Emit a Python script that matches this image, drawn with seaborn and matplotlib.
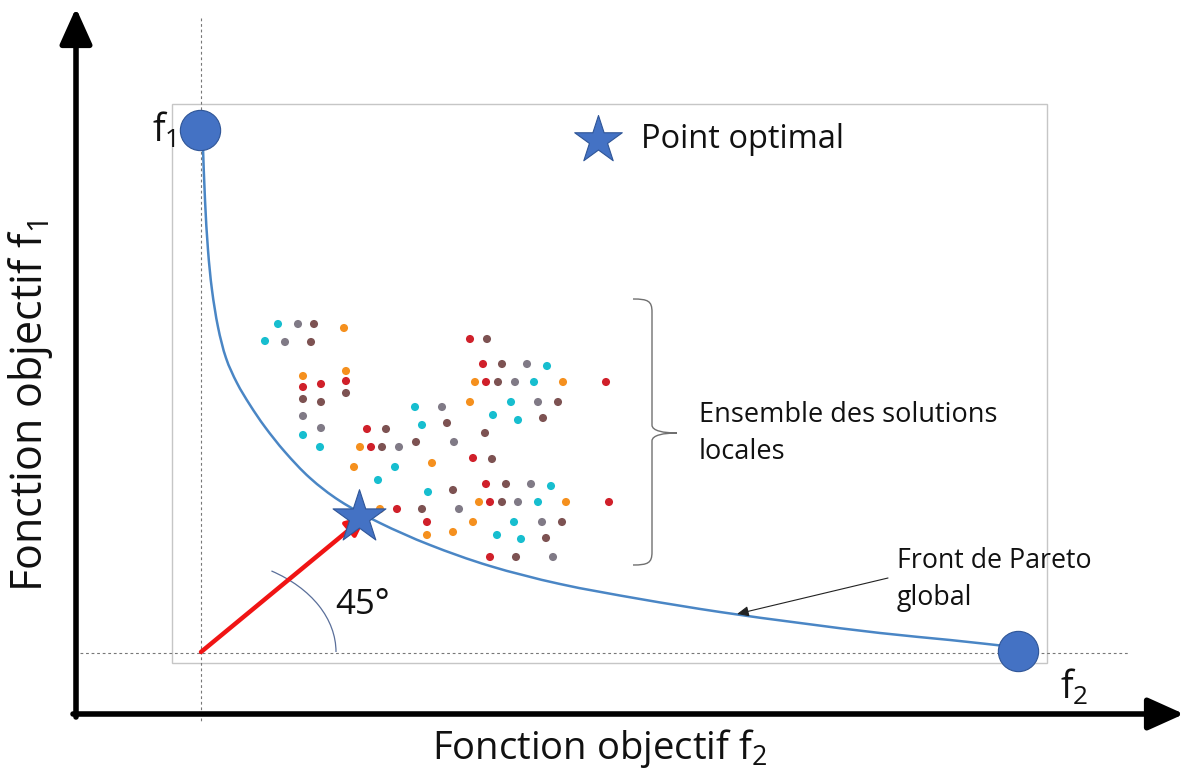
import matplotlib
matplotlib.use("Agg")
import matplotlib.pyplot as plt
from matplotlib.patches import Rectangle, Arc, PathPatch
from matplotlib.path import Path
import seaborn as sns
import pandas as pd

# ---------------- data (diagram units: f2 to the right, f1 axis drawn inverted) -------------
cyan_f2 = [278, 265, 303, 320, 415, 422, 395, 547, 534, 511, 493, 518, 551, 538, 514, 497, 521, 378, 428]
cyan_f1 = [324, 341, 435, 447, 407, 425, 467, 366, 382, 402, 415, 420, 486, 502, 522, 535, 539, 480, 492]
gray_f2 = [298, 285, 303, 321, 442, 399, 454, 527, 515, 538, 531, 518, 459, 542, 553]
gray_f1 = [324, 342, 416, 428, 407, 447, 442, 364, 382, 402, 484, 502, 509, 522, 557]
brown_f2 = [314, 311, 303, 321, 346, 487, 485, 447, 386, 382, 416, 502, 498, 558, 543, 492, 453, 506, 502, 562, 546, 516, 422]
brown_f1 = [324, 342, 399, 402, 393, 339, 433, 423, 429, 447, 442, 364, 382, 402, 418, 459, 490, 484, 502, 522, 538, 557, 509]
orange_f2 = [344, 303, 346, 360, 475, 470, 354, 432, 563, 479, 566, 473, 453, 380, 427]
orange_f1 = [328, 376, 371, 447, 382, 402, 467, 463, 382, 502, 502, 522, 532, 509, 535]
red_f2 = [303, 321, 346, 367, 371, 470, 483, 486, 473, 606, 486, 490, 609, 490, 397, 427]
red_f1 = [387, 384, 381, 429, 447, 339, 364, 382, 458, 382, 484, 502, 502, 557, 509, 522]

front_f2 = [203, 205, 208, 212, 218, 226, 237, 250, 265, 285, 310, 340, 380, 430, 490, 560, 640, 720, 800, 880, 950, 1005]
front_f1 = [148, 200, 250, 290, 327, 358, 383, 405, 427, 452, 478, 501, 523, 545, 566, 584, 599, 612, 623, 633, 640, 646]

extreme_f2 = [200, 1018]
extreme_f1 = [130, 651]
optimal_f2 = [359]
optimal_f1 = [517]
origin = (201, 652)

groups = ["cyan", "gray", "brown", "orange", "red"]
palette = {"cyan": "#17becf", "gray": "#807a86", "brown": "#7d5252", "orange": "#f5901e", "red": "#d0202a"}

rows = []
for g, xs, ys in [("cyan", cyan_f2, cyan_f1), ("gray", gray_f2, gray_f1), ("brown", brown_f2, brown_f1),
                  ("orange", orange_f2, orange_f1), ("red", red_f2, red_f1)]:
    for x, y in zip(xs, ys):
        rows.append({"f2": x, "f1": y, "group": g})
dots = pd.DataFrame(rows)

# ---------------- figure ----------------
sns.set_style("white")
FONT = ["Open Sans", "DejaVu Sans"]
plt.rcParams["font.family"] = FONT
plt.rcParams["mathtext.fontset"] = "custom"
plt.rcParams["mathtext.rm"] = "Open Sans"
plt.rcParams["mathtext.it"] = "Open Sans"
plt.rcParams["mathtext.default"] = "regular"

fig = plt.figure(figsize=(11.85, 7.78), dpi=100)
ax = fig.add_axes([0, 0, 1, 1])
ax.set_xlim(0, 1185)
ax.set_ylim(778, 0)
ax.axis("off")

# frame rectangle
ax.add_patch(Rectangle((172, 104), 875, 559, fill=False, ec="#c6c6c6", lw=1.0, zorder=1))

# dotted guide lines
ax.plot([201, 201], [18, 722], ls=(0, (2.5, 2.5)), color="#777777", lw=0.8, zorder=1)
ax.plot([80, 1130], [653, 653], ls=(0, (2.5, 2.5)), color="#777777", lw=0.8, zorder=1)

# main axes arrows
ax.annotate("", xy=(76, 8), xytext=(76, 717),
            arrowprops=dict(arrowstyle="-|>,head_length=1.0,head_width=0.45", lw=4, color="black",
                            mutation_scale=22, shrinkA=0, shrinkB=0), zorder=5)
ax.annotate("", xy=(1184, 714), xytext=(73, 714),
            arrowprops=dict(arrowstyle="-|>,head_length=1.0,head_width=0.45", lw=4, color="black",
                            mutation_scale=22, shrinkA=0, shrinkB=0), zorder=5)

# Pareto front: smooth curve (Catmull-Rom -> cubic Bezier) through the read points
pts = list(zip(front_f2, front_f1))
verts = [pts[0]]
codes = [Path.MOVETO]
for i in range(len(pts) - 1):
    p0 = pts[i - 1] if i > 0 else pts[i]
    p1 = pts[i]
    p2 = pts[i + 1]
    p3 = pts[i + 2] if i + 2 < len(pts) else pts[i + 1]
    c1 = (p1[0] + (p2[0] - p0[0]) / 6, p1[1] + (p2[1] - p0[1]) / 6)
    c2 = (p2[0] - (p3[0] - p1[0]) / 6, p2[1] - (p3[1] - p1[1]) / 6)
    verts += [c1, c2, p2]
    codes += [Path.CURVE4] * 3
ax.add_patch(PathPatch(Path(verts, codes), fill=False, ec="#4a86c5", lw=1.8, zorder=3))

# local solutions
sns.scatterplot(data=dots, x="f2", y="f1", hue="group", hue_order=groups, palette=palette,
                s=34, edgecolor="none", legend=False, ax=ax, zorder=4)

# extreme points
sns.scatterplot(x=extreme_f2, y=extreme_f1, s=29 ** 2, color="#4472c4", edgecolor="#2f5597",
                linewidth=0.8, legend=False, ax=ax, zorder=6)

# red arrow to optimum
ax.annotate("", xy=(367, 515), xytext=origin,
            arrowprops=dict(arrowstyle="-|>,head_length=0.7,head_width=0.32", lw=3.2, color="#f01414",
                            mutation_scale=18, shrinkA=0, shrinkB=0), zorder=6)

# optimal star
sns.scatterplot(x=optimal_f2, y=optimal_f1, marker="*", s=40 ** 2, color="#4472c4", edgecolor="#2f5597",
                linewidth=0.8, legend=False, ax=ax, zorder=7)
# legend star
sns.scatterplot(x=[598], y=[140], marker="*", s=36 ** 2, color="#4472c4", edgecolor="#2f5597",
                linewidth=0.8, legend=False, ax=ax, zorder=7)

# 45 degree arc
ax.add_patch(Arc(origin, 270, 190, theta1=-49, theta2=0, color="#5a6f9a", lw=0.9, zorder=2))

# brace
bverts = [(633, 299), (648, 299), (652, 301), (652, 312),
          (652, 425), (652, 431), (664, 433), (677, 433),
          (664, 433), (652, 435), (652, 441),
          (652, 552), (652, 563), (648, 565), (633, 565)]
bcodes = [Path.MOVETO, Path.CURVE4, Path.CURVE4, Path.CURVE4,
          Path.LINETO, Path.CURVE4, Path.CURVE4, Path.CURVE4,
          Path.CURVE4, Path.CURVE4, Path.CURVE4,
          Path.LINETO, Path.CURVE4, Path.CURVE4, Path.CURVE4]
ax.add_patch(PathPatch(Path(bverts, bcodes), fill=False, ec="#707070", lw=1.0, zorder=2))

# annotation arrow for Pareto front
ax.annotate("", xy=(737, 614), xytext=(888, 578),
            arrowprops=dict(arrowstyle="-|>,head_length=0.5,head_width=0.22", lw=0.8, color="#222222",
                            mutation_scale=14, shrinkA=0, shrinkB=0), zorder=6)

# texts
ax.text(152, 131, "f$_1$", fontsize=27, ha="left", va="center", color="#111111")
ax.text(1060, 688, "f$_2$", fontsize=27, ha="left", va="center", color="#111111")
ax.text(31, 406, "Fonction objectif f$_1$", fontsize=31, rotation=90, ha="center", va="center", color="#111111")
ax.text(600, 748, "Fonction objectif f$_2$", fontsize=27.5, ha="center", va="center", color="#111111")
ax.text(641, 139, "Point optimal", fontsize=23.5, ha="left", va="center", color="#111111")
ax.text(335, 605, "45°", fontsize=25, ha="left", va="center", color="#111111")
ax.text(699, 415, "Ensemble des solutions", fontsize=19.5, ha="left", va="center", color="#111111")
ax.text(699, 452, "locales", fontsize=19.5, ha="left", va="center", color="#111111")
ax.text(897, 561, "Front de Pareto", fontsize=19.3, ha="left", va="center", color="#111111")
ax.text(897, 598, "global", fontsize=19.3, ha="left", va="center", color="#111111")

fig.savefig("out.png", dpi=100)
